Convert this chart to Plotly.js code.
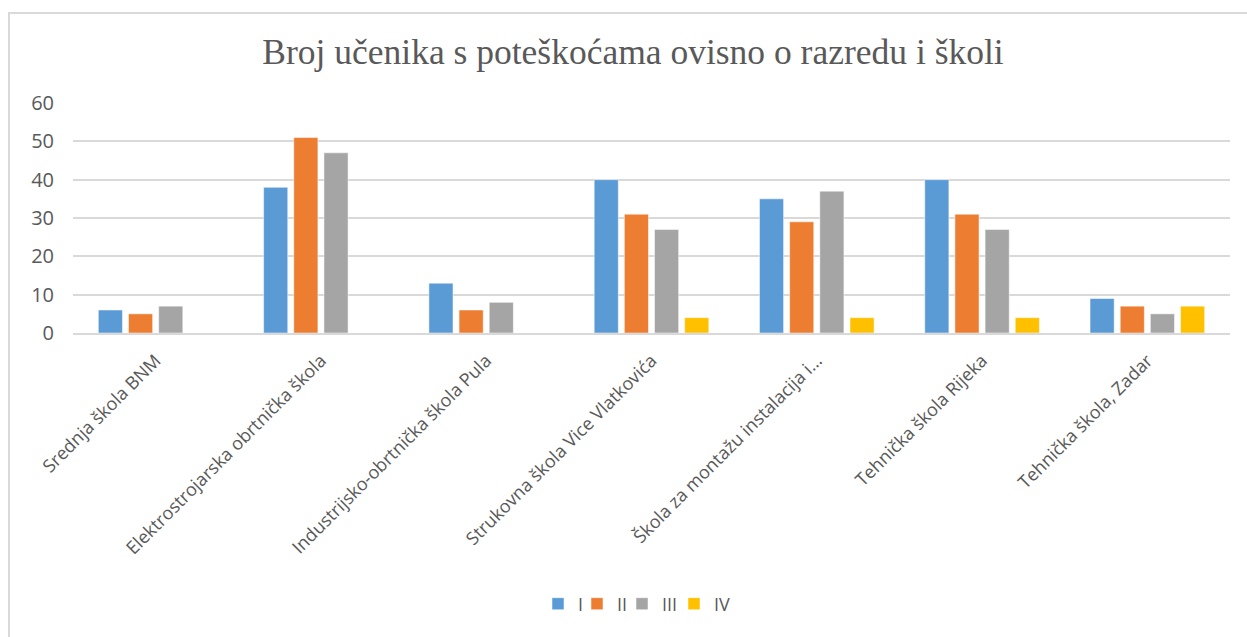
<!DOCTYPE html>
<html>
<head>
<meta charset="utf-8">
<script src="https://cdn.plot.ly/plotly-3.0.1.min.js"></script>
<style>
html,body{margin:0;padding:0;background:#fff;}
#chart{width:1247px;height:637px;position:relative;}
#frame{position:absolute;left:8px;top:12px;width:1250px;height:640px;border-left:2px solid #D9D9D9;border-top:2px solid #D9D9D9;pointer-events:none;}
</style>
</head>
<body>
<div id="chart"></div>
<div id="frame"></div>
<script>
const categories = [
  "Srednja škola BNM",
  "Elektrostrojarska obrtnička škola",
  "Industrijsko-obrtnička škola Pula",
  "Strukovna škola Vice Vlatkovića",
  "Škola za montažu instalacija i…",
  "Tehnička škola Rijeka",
  "Tehnička škola, Zadar"
];
const seriesNames = ["I", "II", "III", "IV"];
const valuesI   = [6, 38, 13, 40, 35, 40, 9];
const valuesII  = [5, 51, 6, 31, 29, 31, 7];
const valuesIII = [7, 47, 8, 27, 37, 27, 5];
const valuesIV  = [null, null, null, 4, 4, 4, 7];
const colors = ["#5B9BD5", "#ED7D31", "#A5A5A5", "#FFC000"];
const allValues = [valuesI, valuesII, valuesIII, valuesIV];

const legendIds = ["legend", "legend2", "legend3", "legend4"];
const traces = allValues.map((vals, i) => ({
  type: "bar",
  name: seriesNames[i],
  x: categories,
  y: vals,
  legend: legendIds[i],
  marker: {color: colors[i], line: {color: "#FFFFFF", width: 0.5}},
  hoverinfo: "x+y+name"
}));

const plotLeft = 73, plotRight = 1230, plotWidth = plotRight - plotLeft;
const legendSquareLeft = [552, 591, 636, 688];
const legendFont = {family: "Open Sans, sans-serif", size: 18, color: "#595959"};

const layout = {
  width: 1247,
  height: 637,
  margin: {l: plotLeft, r: 1247 - plotRight, t: 103, b: 304},
  paper_bgcolor: "#FFFFFF",
  plot_bgcolor: "#FFFFFF",
  title: {
    text: "Broj učenika s poteškoćama ovisno o razredu i školi",
    font: {family: "Liberation Serif, serif", size: 35.5, color: "#595959"},
    x: 633 / 1247, xanchor: "center", xref: "container",
    y: 1 - 52/637, yanchor: "middle"
  },
  barmode: "group",
  bargap: 0.27,
  bargroupgap: 0.2,
  xaxis: {
    type: "category",
    tickangle: -45,
    tickfont: {family: "Open Sans, sans-serif", size: 18, color: "#595959"},
    ticklabelstandoff: 8,
    showgrid: false,
    showline: true,
    linecolor: "#D9D9D9",
    linewidth: 2,
    ticks: "",
    automargin: false
  },
  yaxis: {
    range: [0, 60],
    dtick: 10,
    tickfont: {family: "Open Sans, sans-serif", size: 20, color: "#595959"},
    ticklabelstandoff: 18,
    showgrid: true,
    gridcolor: "#D9D9D9",
    gridwidth: 2,
    zeroline: false,
    showline: false,
    ticks: "",
    ticklen: 0,
    automargin: false
  },
  showlegend: true
};

legendIds.forEach((id, i) => {
  layout[id] = {
    orientation: "h",
    x: (legendSquareLeft[i] - 14 - plotLeft) / plotWidth,
    xanchor: "left",
    y: (333 - 604) / 230, yanchor: "middle",
    font: legendFont,
    bgcolor: "rgba(0,0,0,0)",
    borderwidth: 0
  };
});

Plotly.newPlot("chart", traces, layout, {displayModeBar: false, staticPlot: true});
</script>
</body>
</html>
